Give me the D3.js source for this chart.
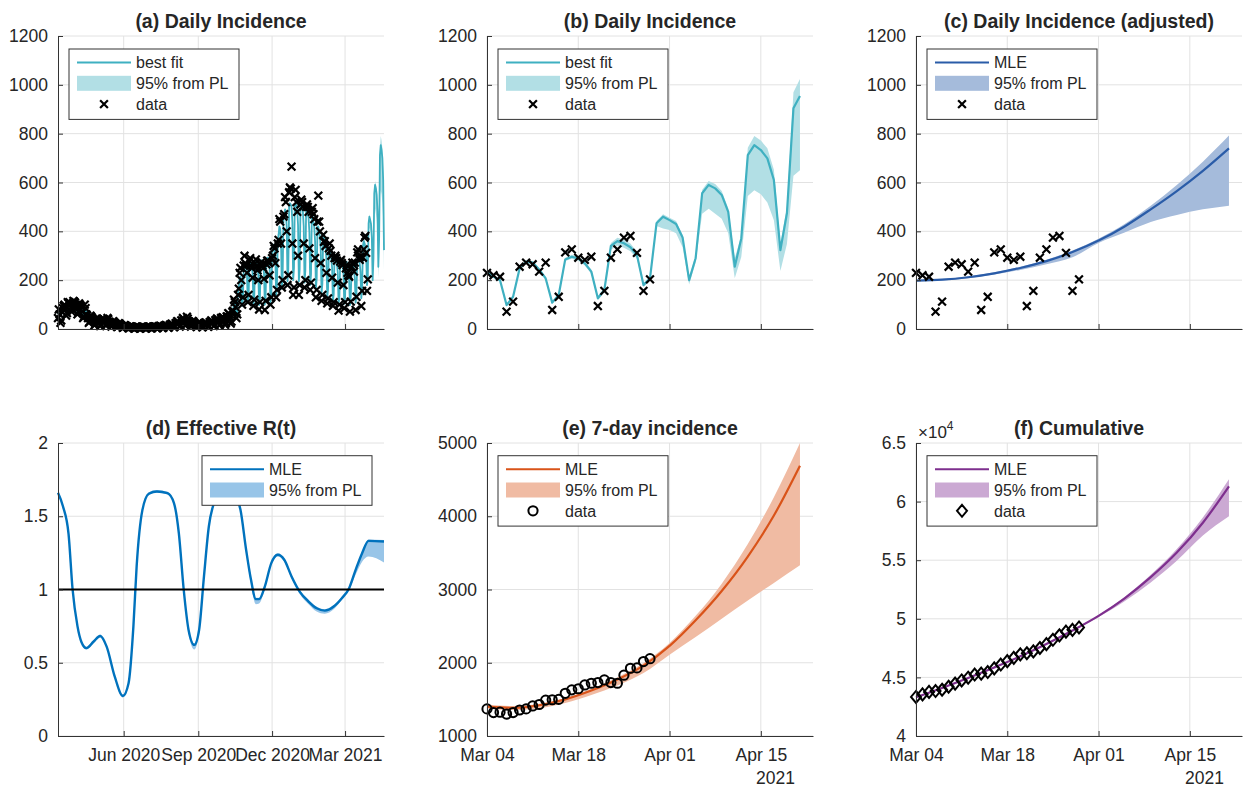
<!DOCTYPE html>
<html>
<head>
<meta charset="utf-8">
<script src="https://cdn.jsdelivr.net/npm/d3@7"></script>
<style>
  body { margin: 0; background: #fff; }
  text { font-family: "Liberation Sans", Arial, Helvetica, sans-serif; fill: #262626; }
</style>
</head>
<body>
<svg id="chart" width="1245" height="787"></svg>
<script>
// ---- data ----
// panel (a): daily data, weeks starting Thu 2020-03-12 (Thu..Wed), until 2021-03-03
const aDataWeeks = [
  [45,80,60,25,35,70,85],[95,100,80,55,65,110,105],[110,105,90,70,80,115,112],[108,100,85,60,70,105,100],
  [95,90,70,45,50,100,85],[60,55,45,25,30,55,50],[45,40,35,15,20,42,40],[38,35,28,12,18,40,35],
  [42,38,30,14,20,45,40],[30,28,22,10,14,32,28],[25,22,18,8,10,24,22],[18,15,12,5,7,16,15],
  [12,10,8,3,4,11,10],[9,8,6,2,3,9,8],[8,7,6,2,3,8,9],[9,8,6,2,3,8,8],
  [8,9,7,3,4,9,10],[11,10,8,3,5,12,11],[14,12,10,4,6,14,13],[17,15,12,5,8,18,16],
  [22,20,16,7,10,24,23],[32,30,24,10,14,35,33],[45,40,32,14,20,50,42],[32,30,24,10,14,33,30],
  [24,22,18,8,11,25,23],[22,20,16,7,10,23,22],[27,25,20,9,12,28,27],[35,32,26,12,16,36,34],
  [43,40,32,15,20,45,44],[48,46,38,17,24,52,50],[65,62,50,22,30,70,75],[120,110,90,45,60,140,165],
  [230,250,200,100,130,260,300],[270,260,230,110,140,280,290],[260,250,210,95,120,270,285],[255,240,200,80,110,260,275],
  [260,250,205,78,115,265,280],[280,270,220,100,130,290,300],[340,330,270,130,160,350,365],[450,440,350,170,200,460,470],
  [540,520,400,180,220,560,580],[575,665,350,140,170,540,570],[520,480,300,140,180,510,530],[520,500,350,170,200,500,510],
  [500,480,330,160,190,480,495],[470,450,290,130,160,440,546],[440,400,270,115,140,385,357],[360,340,230,105,125,330,350],
  [320,300,210,95,110,290,300],[290,280,190,75,100,276,283],[270,262,180,85,110,248,262]
];
const aFitWeeks = [
  [60,70,70,55,60,80,88],[92,95,92,70,78,102,105],[106,104,98,75,82,108,108],[104,100,92,68,74,100,98],
  [92,86,76,52,56,84,80],[62,56,48,30,34,52,50],[44,40,35,20,24,40,39],[37,34,29,16,19,36,35],
  [38,35,30,16,19,37,35],[30,27,23,12,14,28,26],[23,21,18,9,11,21,20],[16,14,12,6,7,14,13],
  [11,10,8,4,5,10,9],[8,8,6,3,4,8,8],[8,7,6,3,3,8,8],[8,7,6,3,3,8,8],
  [8,8,7,3,4,9,9],[10,10,8,4,5,11,11],[13,12,10,5,6,13,13],[16,15,13,6,8,17,17],
  [21,20,17,8,10,23,23],[30,28,24,11,14,33,33],[40,38,31,14,18,41,39],[33,30,25,11,14,31,29],
  [25,23,19,9,11,24,23],[22,20,17,8,10,22,22],[26,24,20,9,12,27,27],[33,31,26,12,15,35,35],
  [41,38,32,15,19,43,43],[48,45,38,18,23,51,52],[62,60,52,25,32,72,78],[110,112,100,50,68,150,170],
  [210,215,195,95,120,245,262],[260,252,225,105,130,270,278],[268,255,225,100,128,272,280],[270,255,222,98,125,270,282],
  [275,262,230,100,130,280,292],[292,280,245,110,142,305,322],[345,335,295,135,172,365,385],[420,410,360,165,210,445,465],
  [490,480,420,195,245,505,515],[510,500,435,200,250,510,515],[505,490,425,195,245,500,505],[495,480,420,190,240,490,495],
  [470,455,395,180,225,460,462],[435,418,360,165,205,420,420],[395,378,325,148,185,378,375],[350,335,285,130,162,335,332],
  [305,292,250,114,142,296,295],[280,268,232,105,132,275,278],[275,262,228,103,130,270,275]
];

// panel (b): from 2021-03-04, data 26 days, fit 49 days
const bData = [230,220,214,71,112,255,272,265,235,272,78,132,314,326,292,283,296,94,156,292,326,374,381,312,156,203];
const bFit = [232,214,200,98,132,248,276,272,244,207,108,139,285,296,289,269,235,126,160,340,
  360,351,335,303,180,207,433,460,446,430,375,200,290,556,590,576,549,480,255,371,
  712,753,733,699,610,323,474,904,954];
const bLower = [228,210,196,94,128,243,270,266,238,201,103,133,278,288,280,260,226,118,150,325,
  342,333,318,288,172,198,422,412,405,392,335,182,272,472,492,472,452,392,208,295,
  545,568,552,518,445,238,348,628,650];
const bUpper = [236,218,204,102,136,253,282,278,250,213,113,145,292,304,298,278,244,134,170,352,
  374,366,350,316,188,215,442,470,456,442,385,212,302,570,606,594,565,495,290,382,
  742,790,772,740,652,350,500,970,1024];

// panels (c), (e), (f): curves sampled every 4 days from 2021-03-04
const fcDays = [0,4,8,12,16,20,24,28,32,36,40,44,48];
const cMle   = [198,202,212,228,250,278,315,362,420,490,565,648,740];
const cUpper = [200,205,215,232,255,284,322,370,430,505,590,685,792];
const cLower = [196,199,208,223,242,265,294,352,395,438,467,490,505];

const eData  = [1370,1320,1325,1300,1320,1355,1370,1410,1430,1490,1495,1500,1583,1630,1645,1697,1720,1730,1766,1730,1720,1830,1925,1930,2016,2055];
const eMle   = [1400,1385,1420,1500,1620,1770,1960,2230,2580,2980,3450,4010,4690];
const eUpper = [1430,1410,1440,1520,1645,1800,1995,2270,2640,3080,3620,4260,5000];
const eLower = [1375,1355,1380,1450,1560,1690,1860,2110,2350,2600,2850,3090,3330];

const fData  = [43330,43550,43764,43835,43947,44202,44474,44739,44974,45246,45324,45456,45770,46096,46388,46671,46967,47061,47217,47509,47835,48209,48590,48902,49058,49261];
const fMle   = [43300,44100,44950,45850,46800,47850,49000,50250,51750,53550,55650,58200,61300];
const fUpper = [43350,44150,45000,45900,46850,47900,49050,50300,51850,53750,55950,58650,61900];
const fLower = [43250,44050,44900,45800,46750,47800,48950,50150,51500,53100,54950,57100,58750];

// panel (d): effective R(t)
const rDates = ["2020-03-12","2020-03-18","2020-03-25","2020-03-30","2020-04-05","2020-04-10","2020-04-16","2020-04-25","2020-05-03",
  "2020-05-11","2020-05-21","2020-05-31","2020-06-07","2020-06-13","2020-06-17","2020-06-24","2020-07-02","2020-07-12",
  "2020-07-25","2020-08-02","2020-08-08","2020-08-14","2020-08-20","2020-08-27","2020-09-02","2020-09-08","2020-09-14",
  "2020-09-21","2020-09-29","2020-10-09","2020-10-15","2020-10-23","2020-10-30","2020-11-05","2020-11-11","2020-11-15",
  "2020-11-22","2020-11-30","2020-12-08","2020-12-16","2020-12-25","2021-01-04","2021-01-15","2021-01-25","2021-02-04",
  "2021-02-15","2021-02-25","2021-03-06","2021-03-14","2021-03-22","2021-03-30","2021-04-18"];
const rMle = [1.66,1.57,1.38,1.00,0.75,0.64,0.60,0.645,0.683,0.61,0.405,0.273,0.36,0.75,1.16,1.54,1.654,1.669,
  1.658,1.59,1.385,1.00,0.724,0.622,0.724,1.09,1.43,1.60,1.66,1.67,1.65,1.544,1.27,1.066,0.934,0.934,
  1.02,1.18,1.237,1.203,1.089,0.986,0.918,0.872,0.856,0.884,0.941,1.009,1.134,1.248,1.332,1.328];
const rLower = [1.65,1.56,1.37,0.99,0.74,0.63,0.59,0.635,0.673,0.60,0.395,0.263,0.35,0.74,1.15,1.53,1.645,1.66,
  1.648,1.58,1.37,0.985,0.70,0.59,0.70,1.07,1.42,1.59,1.65,1.66,1.64,1.53,1.25,1.04,0.90,0.905,
  1.0,1.165,1.225,1.19,1.075,0.97,0.90,0.85,0.835,0.865,0.93,0.995,1.10,1.19,1.225,1.185];
const rUpper = [1.67,1.58,1.39,1.01,0.76,0.65,0.61,0.655,0.693,0.62,0.415,0.283,0.37,0.76,1.17,1.55,1.664,1.679,
  1.668,1.60,1.395,1.01,0.734,0.632,0.734,1.10,1.44,1.61,1.67,1.68,1.66,1.554,1.28,1.076,0.944,0.944,
  1.03,1.19,1.247,1.213,1.099,0.996,0.928,0.882,0.866,0.894,0.951,1.019,1.144,1.258,1.342,1.338];

// ticks
const aTicks = ["2020-06-01","2020-09-01","2020-12-01","2021-03-01"];
const bTicks = ["2021-03-04","2021-03-18","2021-04-01","2021-04-15"];
const incTicks = [0,200,400,600,800,1000,1200];
const rTicks = [0,0.5,1,1.5,2];
const eTicks = [1000,2000,3000,4000,5000];
const fTicks = [40000,45000,50000,55000,60000,65000];

// ---- layout ----
const svg = d3.select("#chart");
const W = 326, H = 293;
const cols = [58, 487, 916], rows = [36, 443];
const dA = i => new Date(Date.UTC(2020, 2, 12 + i));
const dB = i => new Date(Date.UTC(2021, 2, 4 + i));
const aEnd = 402; // last day shown in (a) and (d): 2021-04-18

const teal = "#3fb0c1", tealBand = "#b2dfe5";

function makeAxes(left, top, xDomain, yDomain, xTicks, yTicks) {
  const g = svg.append("g").attr("transform", `translate(${left},${top})`);
  const x = d3.scaleUtc().domain(xDomain).range([0, W]);
  const y = d3.scaleLinear().domain(yDomain).range([H, 0]);
  const grid = g.append("g").attr("stroke", "#e2e2e2").attr("stroke-width", 1);
  grid.selectAll(".gx").data(xTicks).join("line")
    .attr("x1", d => x(d)).attr("x2", d => x(d)).attr("y1", 0).attr("y2", H);
  grid.selectAll(".gy").data(yTicks).join("line")
    .attr("y1", d => y(d)).attr("y2", d => y(d)).attr("x1", 0).attr("x2", W);
  return { g, x, y, xTicks, yTicks };
}

function finishAxes(ax, title, xFmt, yFmt) {
  const xa = d3.axisBottom(ax.x).tickValues(ax.xTicks).tickSize(-5).tickSizeOuter(0)
    .tickPadding(13).tickFormat(xFmt || (() => ""));
  const ya = d3.axisLeft(ax.y).tickValues(ax.yTicks).tickSize(-5).tickSizeOuter(0)
    .tickPadding(10).tickFormat(yFmt || (d => d));
  [ax.g.append("g").attr("transform", `translate(0,${H})`).call(xa),
   ax.g.append("g").call(ya)].forEach(s => {
    s.selectAll("path,line").attr("stroke", "#333");
    s.selectAll("text").attr("font-size", 17.5).attr("fill", "#262626")
      .style("font-family", '"Liberation Sans", Arial, sans-serif');
  });
  ax.g.append("text").attr("x", W / 2).attr("y", -8).attr("text-anchor", "middle")
    .attr("font-size", 19.5).attr("font-weight", "bold").text(title);
}

const xMark = "M-3.9,-3.9L3.9,3.9M-3.9,3.9L3.9,-3.9";
const diamond = "M0,-6L5,0L0,6L-5,0Z";

function legend(ax, lx, ly, w, items) {
  const g = ax.g.append("g").attr("transform", `translate(${lx},${ly})`);
  g.append("rect").attr("width", w).attr("height", 8 + items.length * 20.8)
    .attr("fill", "#fff").attr("stroke", "#333").attr("stroke-width", 1);
  items.forEach((it, i) => {
    const cy = 13.5 + i * 20.8;
    if (it.type === "line")
      g.append("line").attr("x1", 8).attr("x2", 62).attr("y1", cy).attr("y2", cy)
        .attr("stroke", it.color).attr("stroke-width", 2);
    else if (it.type === "patch")
      g.append("rect").attr("x", 8).attr("y", cy - 7.5).attr("width", 54).attr("height", 15).attr("fill", it.color);
    else if (it.type === "x")
      g.append("path").attr("d", xMark).attr("transform", `translate(35,${cy})`)
        .attr("stroke", "#000").attr("stroke-width", 2.2);
    else if (it.type === "circle")
      g.append("circle").attr("cx", 35).attr("cy", cy).attr("r", 4.6)
        .attr("fill", "none").attr("stroke", "#000").attr("stroke-width", 2);
    else if (it.type === "diamond")
      g.append("path").attr("d", diamond).attr("transform", `translate(35,${cy})`)
        .attr("fill", "none").attr("stroke", "#000").attr("stroke-width", 2);
    g.append("text").attr("x", 67).attr("y", cy).attr("dy", "0.36em").attr("font-size", 16).text(it.label);
  });
}

function band(ax, dates, lo, hi, color, curve) {
  ax.g.append("path").datum(dates.map((d, i) => [d, lo[i], hi[i]]))
    .attr("fill", color)
    .attr("d", d3.area().curve(curve || d3.curveLinear)
      .x(d => ax.x(d[0])).y0(d => ax.y(d[1])).y1(d => ax.y(d[2])));
}
function line(ax, dates, vals, color, width, curve) {
  ax.g.append("path").datum(dates.map((d, i) => [d, vals[i]]))
    .attr("fill", "none").attr("stroke", color).attr("stroke-width", width)
    .attr("stroke-linejoin", "round")
    .attr("d", d3.line().curve(curve || d3.curveLinear).x(d => ax.x(d[0])).y(d => ax.y(d[1])));
}
function markers(ax, dates, vals, type) {
  const s = ax.g.append("g").selectAll("g").data(vals).join("g")
    .attr("transform", (d, i) => `translate(${ax.x(dates[i])},${ax.y(d)})`);
  if (type === "x") s.append("path").attr("d", xMark).attr("stroke", "#000").attr("stroke-width", 2.2);
  if (type === "circle") s.append("circle").attr("r", 4.6).attr("fill", "none").attr("stroke", "#000").attr("stroke-width", 2);
  if (type === "diamond") s.append("path").attr("d", diamond).attr("fill", "none").attr("stroke", "#000").attr("stroke-width", 2);
}

const monthDay = d3.utcFormat("%b %d");
const monthYear = d3.utcFormat("%b %Y");
const toDates = arr => arr.map(s => new Date(s));
const bDomain = [dB(0), dB(50)];
const aDomain = [dA(0), dA(aEnd)];

// (a)
const aFit = aFitWeeks.flat().concat(bFit).slice(0, aEnd + 1);
const aData = aDataWeeks.flat().concat(bData);
const aBandN = aEnd + 1 - aFitWeeks.flat().length;
const A = makeAxes(cols[0], rows[0], aDomain, [0, 1200], toDates(aTicks), incTicks);
band(A, bFit.slice(0, aBandN).map((v, i) => dB(i)), bLower, bUpper, tealBand);
line(A, aFit.map((v, i) => dA(i)), aFit, teal, 1.8);
markers(A, aData.map((v, i) => dA(i)), aData, "x");
finishAxes(A, "(a) Daily Incidence");
legend(A, 11, 13, 170, [
  { type: "line", color: teal, label: "best fit" },
  { type: "patch", color: tealBand, label: "95% from PL" },
  { type: "x", label: "data" }]);

// (b)
const B = makeAxes(cols[1], rows[0], bDomain, [0, 1200], toDates(bTicks), incTicks);
const bDates = bFit.map((v, i) => dB(i));
band(B, bDates, bLower, bUpper, tealBand);
line(B, bDates, bFit, teal, 2.2);
markers(B, bData.map((v, i) => dB(i)), bData, "x");
finishAxes(B, "(b) Daily Incidence");
legend(B, 11, 13, 170, [
  { type: "line", color: teal, label: "best fit" },
  { type: "patch", color: tealBand, label: "95% from PL" },
  { type: "x", label: "data" }]);

// (c)
const fcDates = fcDays.map(dB);
const C = makeAxes(cols[2], rows[0], bDomain, [0, 1200], toDates(bTicks), incTicks);
band(C, fcDates, cLower, cUpper, "#a5bbdb", d3.curveMonotoneX);
line(C, fcDates, cMle, "#2a5ca8", 2.2, d3.curveMonotoneX);
markers(C, bData.map((v, i) => dB(i)), bData, "x");
finishAxes(C, "(c) Daily Incidence (adjusted)");
legend(C, 11, 13, 170, [
  { type: "line", color: "#2a5ca8", label: "MLE" },
  { type: "patch", color: "#a5bbdb", label: "95% from PL" },
  { type: "x", label: "data" }]);

// (d)
const rD = toDates(rDates);
const D = makeAxes(cols[0], rows[1], aDomain, [0, 2], toDates(aTicks), rTicks);
band(D, rD, rLower, rUpper, "#98c5e8", d3.curveMonotoneX);
line(D, rD, rMle, "#0072bd", 2.4, d3.curveMonotoneX);
line(D, aDomain, [1, 1], "#000", 2.2);
finishAxes(D, "(d) Effective R(t)", monthYear, d => d);
legend(D, 144, 12.7, 170, [
  { type: "line", color: "#0072bd", label: "MLE" },
  { type: "patch", color: "#98c5e8", label: "95% from PL" }]);

// (e)
const E = makeAxes(cols[1], rows[1], bDomain, [1000, 5000], toDates(bTicks), eTicks);
band(E, fcDates, eLower, eUpper, "#f0bba3", d3.curveMonotoneX);
line(E, fcDates, eMle, "#d95319", 2.2, d3.curveMonotoneX);
markers(E, eData.map((v, i) => dB(i)), eData, "circle");
finishAxes(E, "(e) 7-day incidence", monthDay);
E.g.append("text").attr("x", W - 18).attr("y", H + 48).attr("text-anchor", "end").attr("font-size", 17.5).text("2021");
legend(E, 11, 12.7, 170, [
  { type: "line", color: "#d95319", label: "MLE" },
  { type: "patch", color: "#f0bba3", label: "95% from PL" },
  { type: "circle", label: "data" }]);

// (f)
const F = makeAxes(cols[2], rows[1], bDomain, [40000, 65000], toDates(bTicks), fTicks);
band(F, fcDates, fLower, fUpper, "#cba9d3", d3.curveMonotoneX);
line(F, fcDates, fMle, "#7e2f8e", 2.2, d3.curveMonotoneX);
markers(F, fData.map((v, i) => dB(i)), fData, "diamond");
finishAxes(F, "(f) Cumulative", monthDay, d => d / 1e4);
F.g.append("text").attr("x", W - 18).attr("y", H + 48).attr("text-anchor", "end").attr("font-size", 17.5).text("2021");
const exp = F.g.append("text").attr("x", 2).attr("y", -5).attr("font-size", 17);
exp.append("tspan").text("\u00d710");
exp.append("tspan").attr("dy", -8).attr("font-size", 12).text("4");
legend(F, 11, 12.7, 170, [
  { type: "line", color: "#7e2f8e", label: "MLE" },
  { type: "patch", color: "#cba9d3", label: "95% from PL" },
  { type: "diamond", label: "data" }]);
</script>
</body>
</html>
